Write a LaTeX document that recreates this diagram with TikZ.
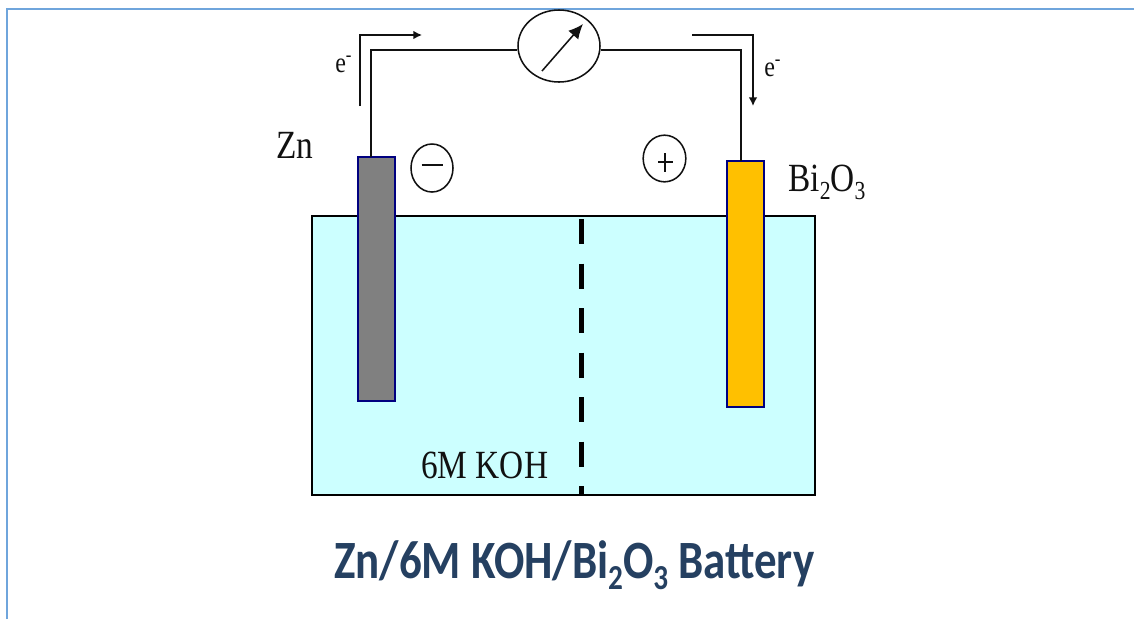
\documentclass[tikz,border=0pt]{standalone}
\usepackage{fontspec}
\setmainfont{Liberation Serif}
\newfontfamily\titlefont{Carlito}
\usetikzlibrary{shapes.geometric,arrows.meta,calc}
\definecolor{framec}{HTML}{6FA5DC}
\definecolor{tankc}{HTML}{CCFFFF}
\definecolor{edgec}{HTML}{000080}
\definecolor{zincc}{HTML}{808080}
\definecolor{bic}{HTML}{FFC000}
\definecolor{titlec}{HTML}{254061}
\definecolor{inkc}{HTML}{111111}
\newcommand{\stretchy}[1]{\scalebox{1}[1.2]{#1}}
\newcommand{\subdigit}[1]{\raisebox{-0.21em}{\scalebox{0.65}{#1}}}
\tikzset{
  x=0.75pt,y=-0.75pt,
  wire/.style={draw=inkc,line width=1.15pt},
  flow/.style={draw=inkc,line width=1.15pt,-{Latex[length=6.5pt,width=6.5pt]}},
  electrode/.style={draw=edgec,line width=1.4pt,rectangle,minimum width=27.75pt,inner sep=0pt,outer sep=0pt,anchor=north west},
  sign/.style={draw=inkc,line width=1.15pt,ellipse,inner sep=0pt},
  lab/.style={anchor=base west,inner sep=0pt,text=inkc,font=\fontsize{25}{25}\selectfont},
  smalllab/.style={anchor=base west,inner sep=0pt,text=inkc,font=\fontsize{18}{18}\selectfont},
}
\begin{document}
\begin{tikzpicture}
\useasboundingbox (0,0) rectangle (1134,619);
\fill[white] (0,0) rectangle (1134,619);
% frame
\coordinate (fa) at (7,619);
\coordinate (fb) at (7,9);
\coordinate (fc) at (1134,9);
\draw[framec,line width=1.8pt] (fa) -- (fb) -- (fc);
% tank
\node[draw=black,line width=1.5pt,fill=tankc,rectangle,inner sep=0pt,outer sep=0pt,minimum width=377.25pt,minimum height=209.25pt,anchor=north west] (tank) at (312,216) {};
% membrane
\coordinate (ma) at (581.5,219);
\coordinate (mb) at (581.5,494);
\draw[black,line width=3.8pt,dash pattern=on 19pt off 14.4pt] (ma) -- (mb);
% electrodes
\node[electrode,fill=zincc,minimum height=183pt] (zn) at (358,157) {};
\node[electrode,fill=bic,minimum height=184.5pt] (bi) at (727,161) {};
% meter
\node[sign,fill=white,minimum width=61.5pt,minimum height=54pt] (meter) at (559,46) {};
\coordinate (wl) at (371,50);
\coordinate (wr) at (741,50);
\draw[wire] (zn.north -| wl) -- (wl) -- (meter.west |- wl);
\draw[wire] (meter.east |- wr) -- (wr) -- (bi.north -| wr);
\coordinate (na) at (542,71);
\coordinate (nb) at (583,24);
\draw[wire,-{Latex[length=11pt,width=10pt]}] (na) -- (nb);
% electron arrows
\coordinate (la) at (360,106);
\coordinate (lb) at (360,35);
\coordinate (lc) at (422,35);
\draw[flow] (la) -- (lb) -- (lc);
\coordinate (ra) at (692,35);
\coordinate (rb) at (753,35);
\coordinate (rc) at (753,106);
\draw[flow] (ra) -- (rb) -- (rc);
% signs
\node[sign,minimum width=31.5pt,minimum height=36pt] (minus) at (432,168) {};
\coordinate (ma1) at (421.5,164.7);
\coordinate (ma2) at (442.5,164.7);
\draw[wire,line width=1.4pt] (ma1) -- (ma2);
\node[sign,minimum width=32pt,minimum height=35pt] (plus) at (664.5,158.5) {};
\coordinate (pa1) at (658,162);
\coordinate (pa2) at (673,162);
\coordinate (pa3) at (665,153);
\coordinate (pa4) at (665,172);
\draw[wire,line width=1.4pt] (pa1) -- (pa2) (pa3) -- (pa4);
% labels
\node[lab] (lzn) at (276,158) {\stretchy{Zn}};
\node[lab] (lbi) at (788,191) {\stretchy{Bi\subdigit{2}O\subdigit{3}}};
\node[lab] (lkoh) at (421,478) {\stretchy{6M KOH}};
\node[smalllab] (el) at (335,72) {\stretchy{e\textsuperscript{-}}};
\node[smalllab] (er) at (764,76) {\stretchy{e\textsuperscript{-}}};
\node[anchor=base west,inner sep=0pt,text=titlec,font=\titlefont\bfseries\fontsize{33.7}{33.7}\selectfont] (title) at (334,578) {\stretchy{Zn/6M KOH/Bi\subdigit{2}O\subdigit{3} Battery}};
\end{tikzpicture}
\end{document}
